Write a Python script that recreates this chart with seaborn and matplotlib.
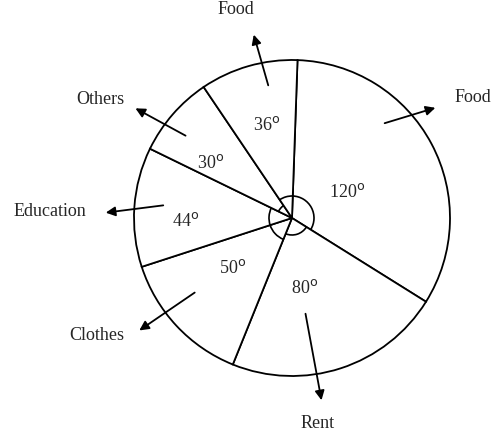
import numpy as np
import seaborn as sns
import matplotlib.pyplot as plt
from matplotlib.patches import Arc

sns.set_theme(style="white")
plt.rcParams['font.family'] = ['Liberation Serif', 'DejaVu Serif']

# wedges, clockwise from the top spoke
categories = ["Food", "Rent", "Clothes", "Education", "Others", "Food"]
angles = [120, 80, 50, 44, 30, 36]
angle_labels = ["120", "80", "50", "44", "30", "36"]

# layout (pixel coordinates of the 493x441 picture)
cx, cy, r = 292, 218, 158
start = 88
arc_radius = [22, 17, 23, 23, 15, 22]
value_pos = [(347, 192), (305, 288), (233, 268), (186, 221), (211, 163), (267, 125)]
arrow_from = [(382, 124), (305, 311), (197, 291), (166, 205), (188, 137), (269, 88)]
arrow_to = [(438, 107), (322, 403), (137, 332), (103, 213), (133, 107), (253, 32)]
name_pos = [(473, 97), (318, 423), (97, 336), (50, 211), (100, 100), (236, 10)]

fig = plt.figure(figsize=(4.93, 4.41), dpi=100)
ax = fig.add_axes([0, 0, 1, 1])
H = 441

wedges, _ = ax.pie(angles, startangle=start, counterclock=False, center=(cx, H - cy),
                   radius=r, colors=["white"] * len(angles),
                   wedgeprops=dict(edgecolor="black", linewidth=1.3))

for w, rad in zip(wedges, arc_radius):
    ax.add_patch(Arc((cx, H - cy), 2 * rad, 2 * rad, theta1=w.theta1, theta2=w.theta2,
                     color="black", lw=1.2))

for lab, (x, y) in zip(angle_labels, value_pos):
    ax.text(x, H - y, lab + r"$^{\rm o}$", ha="center", va="center", fontsize=13)

for name, p0, p1, (tx, ty) in zip(categories, arrow_from, arrow_to, name_pos):
    ax.annotate("", xy=(p1[0], H - p1[1]), xytext=(p0[0], H - p0[1]),
                arrowprops=dict(arrowstyle="-|>", color="black", lw=1.3, mutation_scale=14))
    ax.text(tx, H - ty, name, ha="center", va="center", fontsize=13)

ax.set_xlim(0, 493)
ax.set_ylim(0, H)
ax.set_aspect("equal")
ax.axis("off")
fig.savefig("out.png", dpi=100, facecolor="white")
